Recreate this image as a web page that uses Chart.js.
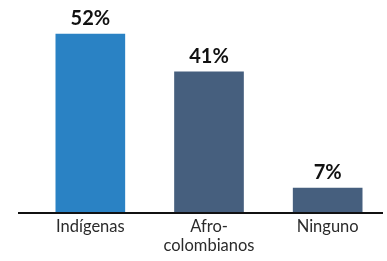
<!DOCTYPE html>
<html>
<head>
<meta charset="utf-8">
<script src="https://cdn.jsdelivr.net/npm/chart.js@4"></script>
<style>
  html, body { margin: 0; padding: 0; background: #fff; }
  #wrap { width: 387px; height: 261px; }
</style>
</head>
<body>
<div id="wrap"><canvas id="myChart"></canvas></div>
<script>
const categories = [["Indígenas"], ["Afro-", "colombianos"], ["Ninguno"]];
const shares = [52, 41, 7];
const barColors = ["#2a82c4", "#465f7e", "#465f7e"];

// baseline drawn wider than the bars area
const baseline = {
  id: "baseline",
  afterDatasetsDraw(chart) {
    const ctx = chart.ctx;
    const y = chart.scales.y.getPixelForValue(0);
    ctx.save();
    ctx.strokeStyle = "#111";
    ctx.lineWidth = 2;
    ctx.beginPath();
    ctx.moveTo(18, y + 1);
    ctx.lineTo(383, y + 1);
    ctx.stroke();
    ctx.restore();
  },
};

// percent labels above each bar
const valueLabels = {
  id: "valueLabels",
  afterDatasetsDraw(chart) {
    const ctx = chart.ctx;
    const meta = chart.getDatasetMeta(0);
    ctx.save();
    ctx.font = "bold 20px Lato";
    ctx.fillStyle = "#111";
    ctx.textAlign = "center";
    ctx.textBaseline = "alphabetic";
    meta.data.forEach((bar, i) => {
      ctx.fillText(shares[i] + "%", bar.x, bar.y - 9);
    });
    ctx.restore();
  },
};

window.onload = () => {
  const ctx = document.getElementById("myChart").getContext("2d");
  new Chart(ctx, {
    type: "bar",
    data: {
      labels: categories,
      datasets: [
        {
          data: shares,
          backgroundColor: barColors,
          barThickness: 69,
        },
      ],
    },
    options: {
      responsive: true,
      maintainAspectRatio: false,
      animation: false,
      layout: { padding: { left: 31, right: 0, top: 0, bottom: 0 } },
      plugins: { legend: { display: false }, tooltip: { enabled: false } },
      scales: {
        y: { display: false, min: 0, max: 62 },
        x: {
          grid: { display: false, drawTicks: false },
          border: { display: false },
          ticks: {
            color: "#2b2b2b",
            font: { family: "Lato", size: 16.5, lineHeight: 1.1 },
            padding: 6,
            maxRotation: 0,
          },
          afterFit(scale) {
            scale.height = 49;
          },
        },
      },
    },
    plugins: [baseline, valueLabels],
  });
};
</script>
</body>
</html>
